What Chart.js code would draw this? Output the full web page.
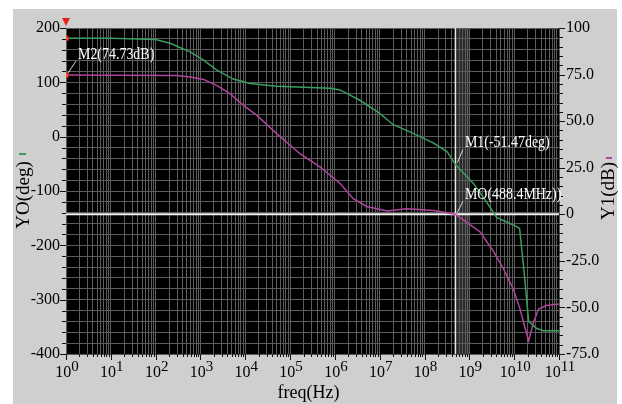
<!DOCTYPE html>
<html>
<head>
<meta charset="utf-8">
<script src="https://cdn.jsdelivr.net/npm/chart.js@4.4.0/dist/chart.umd.min.js"></script>
<style>
  html, body { margin: 0; padding: 0; background: #fff; }
  #frame { position: absolute; left: 13px; top: 9px; width: 604px; height: 395px; background: #cfcfcf; }
  #chart { position: absolute; left: 0; top: 0; }
</style>
</head>
<body>
<div id="frame"></div>
<canvas id="chart" width="622" height="404"></canvas>
<script>
// phase curve (left axis, deg)
const phaseFreq = [1, 10, 100, 209, 589, 1175, 2291, 5370, 12900, 50100, 2e5, 7.8e5, 1.3e6, 3.6e6,
  1e7, 2e7, 5.6e7, 1.6e8, 3.2e8, 4.884e8, 1.23e9, 2.45e9, 4.1e9, 6.9e9, 1.15e10, 1.32e10,
  1.62e10, 2.1e10, 3.2e10, 4.5e10, 1e11];
const phaseDeg = [181, 181, 179, 172, 156, 141, 123, 106, 98, 93, 91, 89, 86, 67,
  43, 22, 6, -12, -28, -51.47, -86, -121, -149, -157, -166, -169,
  -239, -340, -353, -357, -357];

// gain curve (right axis, dB)
const gainFreq = [1, 10, 295, 589, 1175, 2291, 4570, 9120, 18200, 50100, 1.66e5, 4.7e5, 1.32e6,
  2.57e6, 5.1e6, 1.45e7, 4e7, 1.6e8, 4.884e8, 1.74e9, 3.5e9, 5.75e9, 9.5e9, 1.35e10, 1.78e10,
  2.1e10, 2.7e10, 3.5e10, 5.2e10, 1e11];
const gainDb = [74.73, 74.7, 74.5, 73.7, 72.4, 69.2, 64.8, 58.5, 53.1, 43.3, 32.5, 25.3, 16.4,
  8.4, 4.2, 1.8, 3.0, 2.0, 0, -9.5, -20.2, -29.2, -40, -50.9, -61.7,
  -68, -58, -50.9, -49, -48.2];

// markers
const crossFreq = 488.4e6;
const m1Phase = -51.47;
const m2Gain = 74.73;
const markerLabels = ['M2(74.73dB)', 'M1(-51.47deg)', 'MO(488.4MHz))'];

// axes
const xTickExps = [0, 1, 2, 3, 4, 5, 6, 7, 8, 9, 10, 11];
const leftTickValues = [200, 100, 0, -100, -200, -300, -400];
const rightTickValues = [100, 75, 50, 25, 0, -25, -50, -75];
const rightTickLabels = ['100', '75.0', '50.0', '25.0', '0', '-25.0', '-50.0', '-75.0'];

const GREEN = '#3a9e5e';
const MAGENTA = '#b0449f';
const SERIF = '"Liberation Serif", "Times New Roman", serif';

const toPoints = (xs, ys) => xs.map((x, i) => ({ x: x, y: ys[i] }));

const bodePlot = {
  id: 'bodePlot',
  beforeDraw(chart) {
    const { ctx, chartArea: a, scales: { x } } = chart;
    ctx.save();
    ctx.fillStyle = '#000';
    ctx.fillRect(a.left, a.top, a.right - a.left, a.bottom - a.top);
    const b0 = x.getPixelForValue(5e8), b1 = x.getPixelForValue(1e9);
    ctx.fillStyle = '#2a2a2a';
    ctx.fillRect(b0, a.top, b1 - b0, a.bottom - a.top);
    ctx.restore();
  },
  afterDraw(chart) {
    const { ctx, chartArea: a, scales: { x, y, y1 } } = chart;
    ctx.save();

    // tick marks
    ctx.strokeStyle = '#111';
    ctx.lineWidth = 1;
    ctx.beginPath();
    for (let k = 0; k <= 11; k++) {
      for (let m = 1; m <= 9; m++) {
        const v = m * Math.pow(10, k);
        if (v > 1e11) break;
        const px = Math.round(x.getPixelForValue(v)) + 0.5;
        ctx.moveTo(px, a.bottom);
        ctx.lineTo(px, a.bottom + (m === 1 ? 6 : 3));
      }
    }
    for (let v = -400; v <= 200; v += 20) {
      const py = Math.round(y.getPixelForValue(v)) + 0.5;
      ctx.moveTo(a.left, py);
      ctx.lineTo(a.left - (v % 100 === 0 ? 6 : 4), py);
    }
    for (let v = -75; v <= 100; v += 5) {
      const py = Math.round(y1.getPixelForValue(v)) + 0.5;
      ctx.moveTo(a.right, py);
      ctx.lineTo(a.right + (v % 25 === 0 ? 6 : 4), py);
    }
    ctx.stroke();

    // x tick labels 10^k
    ctx.fillStyle = '#000';
    ctx.textBaseline = 'alphabetic';
    ctx.textAlign = 'left';
    xTickExps.forEach(k => {
      const px = x.getPixelForValue(Math.pow(10, k));
      ctx.font = '16px ' + SERIF;
      const w1 = ctx.measureText('10').width;
      ctx.font = '15px ' + SERIF;
      const w2 = ctx.measureText(String(k)).width;
      const left = px - (w1 + w2) / 2 + 1;
      ctx.font = '16px ' + SERIF;
      ctx.fillText('10', left, 377);
      ctx.font = '15px ' + SERIF;
      ctx.fillText(String(k), left + w1, 371);
    });

    // axis titles
    ctx.font = '18px ' + SERIF;
    ctx.textAlign = 'center';
    ctx.fillText('freq(Hz)', (a.left + a.right) / 2 - 4, 398);
    ctx.font = '19px ' + SERIF;
    ctx.textBaseline = 'middle';
    ctx.save();
    ctx.translate(24, 195);
    ctx.rotate(-Math.PI / 2);
    ctx.fillText('YO(deg)', 0, 0);
    ctx.restore();
    ctx.save();
    ctx.translate(609, 191);
    ctx.rotate(-Math.PI / 2);
    ctx.fillText('Y1(dB)', 0, 0);
    ctx.restore();
    ctx.fillStyle = GREEN;
    ctx.fillRect(19, 153, 7, 2);
    ctx.fillStyle = MAGENTA;
    ctx.fillRect(606, 157, 6, 2);

    // red marker triangle on top
    const tx = x.getPixelForValue(1);
    ctx.fillStyle = '#e8231b';
    ctx.beginPath();
    ctx.moveTo(tx - 4, 18);
    ctx.lineTo(tx + 4, 18);
    ctx.lineTo(tx, 26);
    ctx.closePath();
    ctx.fill();

    // marker labels with leader lines
    const pts = [
      { x: x.getPixelForValue(1), y: y1.getPixelForValue(m2Gain), dx: 12, dy: -21 },
      { x: x.getPixelForValue(crossFreq), y: y.getPixelForValue(m1Phase), dx: 9.5, dy: -22 },
      { x: x.getPixelForValue(crossFreq), y: y1.getPixelForValue(0), dx: 9.5, dy: -20 }
    ];
    ctx.font = '17px ' + SERIF;
    ctx.textAlign = 'left';
    ctx.textBaseline = 'middle';
    pts.forEach((p, i) => {
      ctx.strokeStyle = '#d8d8d8';
      ctx.beginPath();
      ctx.moveTo(p.x + 2, p.y - 2);
      ctx.lineTo(p.x + p.dx - 2, p.y + p.dy + 7);
      ctx.stroke();
      ctx.save();
      ctx.translate(p.x + p.dx, p.y + p.dy);
      ctx.scale(0.82, 1);
      ctx.fillStyle = '#fff';
      ctx.fillText(markerLabels[i], 0, 0);
      ctx.restore();
    });
    ctx.restore();
  }
};

const stepTicks = (min, max, step) => scale => {
  const t = [];
  for (let v = min; v <= max; v += step) t.push({ value: v });
  scale.ticks = t;
};

new Chart(document.getElementById('chart'), {
  type: 'line',
  data: {
    datasets: [
      {
        data: [{ x: 1, y: phaseDeg[0] }], yAxisID: 'y', showLine: false,
        pointStyle: 'rect', pointRadius: 3, backgroundColor: '#ff5a2a', borderColor: '#e02010', borderWidth: 1
      },
      {
        data: [{ x: 1, y: m2Gain }], yAxisID: 'y1', showLine: false,
        pointStyle: 'rect', pointRadius: 3, backgroundColor: '#ff5a2a', borderColor: '#e02010', borderWidth: 1
      },
      {
        label: 'YO(deg)', data: toPoints(phaseFreq, phaseDeg), yAxisID: 'y',
        borderColor: GREEN, borderWidth: 1.5, pointRadius: 0, tension: 0
      },
      {
        label: 'Y1(dB)', data: toPoints(gainFreq, gainDb), yAxisID: 'y1',
        borderColor: MAGENTA, borderWidth: 1.5, pointRadius: 0, tension: 0
      },
      {
        data: [{ x: 1, y: 0 }, { x: 1e11, y: 0 }], yAxisID: 'y1',
        borderColor: '#f2f2f2', borderWidth: 2, pointRadius: 0
      },
      {
        data: [{ x: crossFreq, y: -400 }, { x: crossFreq, y: 200 }], yAxisID: 'y',
        borderColor: '#e8e8e8', borderWidth: 1.5, pointRadius: 0
      }
    ]
  },
  options: {
    responsive: false,
    animation: false,
    layout: { padding: { left: 13, top: 28, right: 5, bottom: 5 } },
    plugins: { legend: { display: false }, tooltip: { enabled: false } },
    scales: {
      x: {
        type: 'logarithmic', position: 'bottom', min: 1, max: 1e11,
        afterBuildTicks: scale => {
          const t = [];
          for (let k = 0; k <= 11; k++) {
            for (let m = 1; m <= 9; m++) {
              const v = m * Math.pow(10, k);
              if (v <= 1e11) t.push({ value: v });
            }
          }
          scale.ticks = t;
        },
        afterFit: scale => { scale.height = 45; },
        ticks: { display: false, autoSkip: false },
        grid: { color: '#5c5c5c', lineWidth: 1, drawTicks: false },
        border: { display: false }
      },
      y: {
        type: 'linear', position: 'left', min: -400, max: 200,
        afterBuildTicks: stepTicks(-400, 200, 20),
        afterFit: scale => { scale.width = 53; },
        ticks: {
          autoSkip: false, padding: 6, color: '#000',
          font: { family: SERIF, size: 16 },
          callback: v => leftTickValues.includes(v) ? String(v) : ''
        },
        grid: { color: '#5c5c5c', lineWidth: 1, drawTicks: false },
        border: { display: false }
      },
      y1: {
        type: 'linear', position: 'right', min: -75, max: 100,
        afterBuildTicks: stepTicks(-75, 100, 5),
        afterFit: scale => { scale.width = 58; },
        ticks: {
          autoSkip: false, padding: 7, color: '#000',
          font: { family: SERIF, size: 16 },
          callback: v => {
            const i = rightTickValues.indexOf(v);
            return i >= 0 ? rightTickLabels[i] : '';
          }
        },
        grid: { drawOnChartArea: false, drawTicks: false },
        border: { display: false }
      }
    }
  },
  plugins: [bodePlot]
});
</script>
</body>
</html>
